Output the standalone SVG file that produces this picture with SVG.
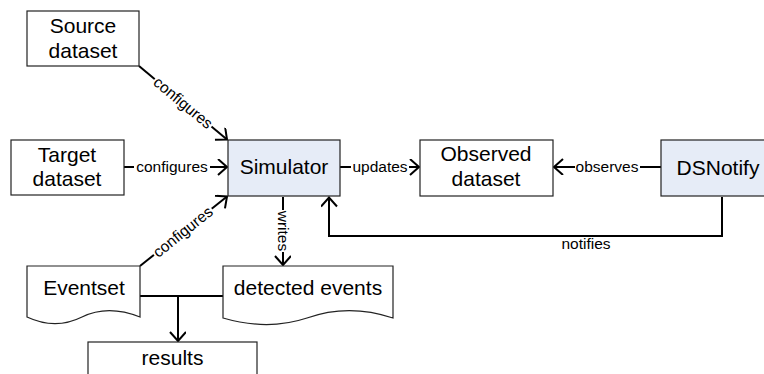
<svg xmlns="http://www.w3.org/2000/svg" width="764" height="374" viewBox="0 0 764 374">
<style>
.box{fill:#fff;stroke:#222;stroke-width:1.2}
.blue{fill:#E6ECF7;stroke:#222;stroke-width:1.2}
.nt{font-family:"Liberation Sans",Arial,sans-serif;font-size:21px;fill:#000;text-anchor:middle}
.lb{font-family:"Liberation Sans",Arial,sans-serif;font-size:15.5px;fill:#000;text-anchor:middle}
.ln{fill:none;stroke:#000;stroke-width:2}
.bg{fill:#fff}
</style>
<defs>
<marker id="ar" markerUnits="userSpaceOnUse" markerWidth="14" markerHeight="18" refX="10" refY="8" orient="auto" viewBox="0 0 14 18">
<path d="M1,0 L10,8 L1,16" fill="none" stroke="#000" stroke-width="2"/>
</marker>
</defs>
<g id="connectors">
<line class="ln" x1="139" y1="66" x2="227" y2="139.5" marker-end="url(#ar)"/>
<g transform="translate(183,103) rotate(39.7)"><rect class="bg" x="-37" y="-6" width="74" height="12"/><text class="lb" y="5">configures</text></g>
<line class="ln" x1="124" y1="167" x2="227" y2="167" marker-end="url(#ar)"/>
<rect class="bg" x="134" y="161" width="76" height="12"/><text class="lb" x="172" y="172">configures</text>
<line class="ln" x1="140" y1="266" x2="227" y2="196.5" marker-end="url(#ar)"/>
<g transform="translate(183,232) rotate(-38.6)"><rect class="bg" x="-37" y="-6" width="74" height="12"/><text class="lb" y="5">configures</text></g>
<line class="ln" x1="283" y1="197" x2="283" y2="265" marker-end="url(#ar)"/>
<g transform="translate(283,231) rotate(90)"><rect class="bg" x="-21" y="-6" width="42" height="12"/><text class="lb" y="5">writes</text></g>
<line class="ln" x1="340" y1="167" x2="419" y2="167" marker-end="url(#ar)"/>
<rect class="bg" x="351" y="161" width="58" height="12"/><text class="lb" x="380" y="172">updates</text>
<line class="ln" x1="661" y1="167" x2="554" y2="167" marker-end="url(#ar)"/>
<rect class="bg" x="575" y="161" width="65" height="12"/><text class="lb" x="607" y="172">observes</text>
<polyline class="ln" points="722,197 722,236 329,236 329,197.5" marker-end="url(#ar)"/>
<text class="lb" x="586" y="249">notifies</text>
<line class="ln" x1="140" y1="296" x2="223" y2="296"/>
<line class="ln" x1="178" y1="296" x2="178" y2="341" marker-end="url(#ar)"/>
</g>
<g id="source">
<rect class="box" x="27" y="11" width="112" height="55"/>
<text class="nt" x="83" y="33">Source</text>
<text class="nt" x="83" y="58">dataset</text>
</g>
<g id="target">
<rect class="box" x="11" y="140" width="113" height="55"/>
<text class="nt" x="67" y="162">Target</text>
<text class="nt" x="67" y="186">dataset</text>
</g>
<g id="simulator">
<rect class="blue" x="228" y="140" width="112" height="56"/>
<text class="nt" x="284" y="174">Simulator</text>
</g>
<g id="observed">
<rect class="box" x="420" y="140" width="133" height="56"/>
<text class="nt" x="486" y="161">Observed</text>
<text class="nt" x="486" y="186">dataset</text>
</g>
<g id="dsnotify">
<rect class="blue" x="661" y="140" width="114" height="56"/>
<text class="nt" x="718" y="175">DSNotify</text>
</g>
<g id="eventset">
<path class="box" d="M27,266 H140 V317 C120,309 100,308 82,317 C62,327 42,324 27,317 Z"/>
<text class="nt" x="84" y="295">Eventset</text>
</g>
<g id="detected">
<path class="box" d="M223,266 H393 V318 C363,308 335,308 307,318 C277,328 247,325 223,318 Z"/>
<text class="nt" x="308" y="295">detected events</text>
</g>
<g id="results">
<rect class="box" x="88" y="342" width="169" height="40"/>
<text class="nt" x="172.5" y="365">results</text>
</g>
</svg>
